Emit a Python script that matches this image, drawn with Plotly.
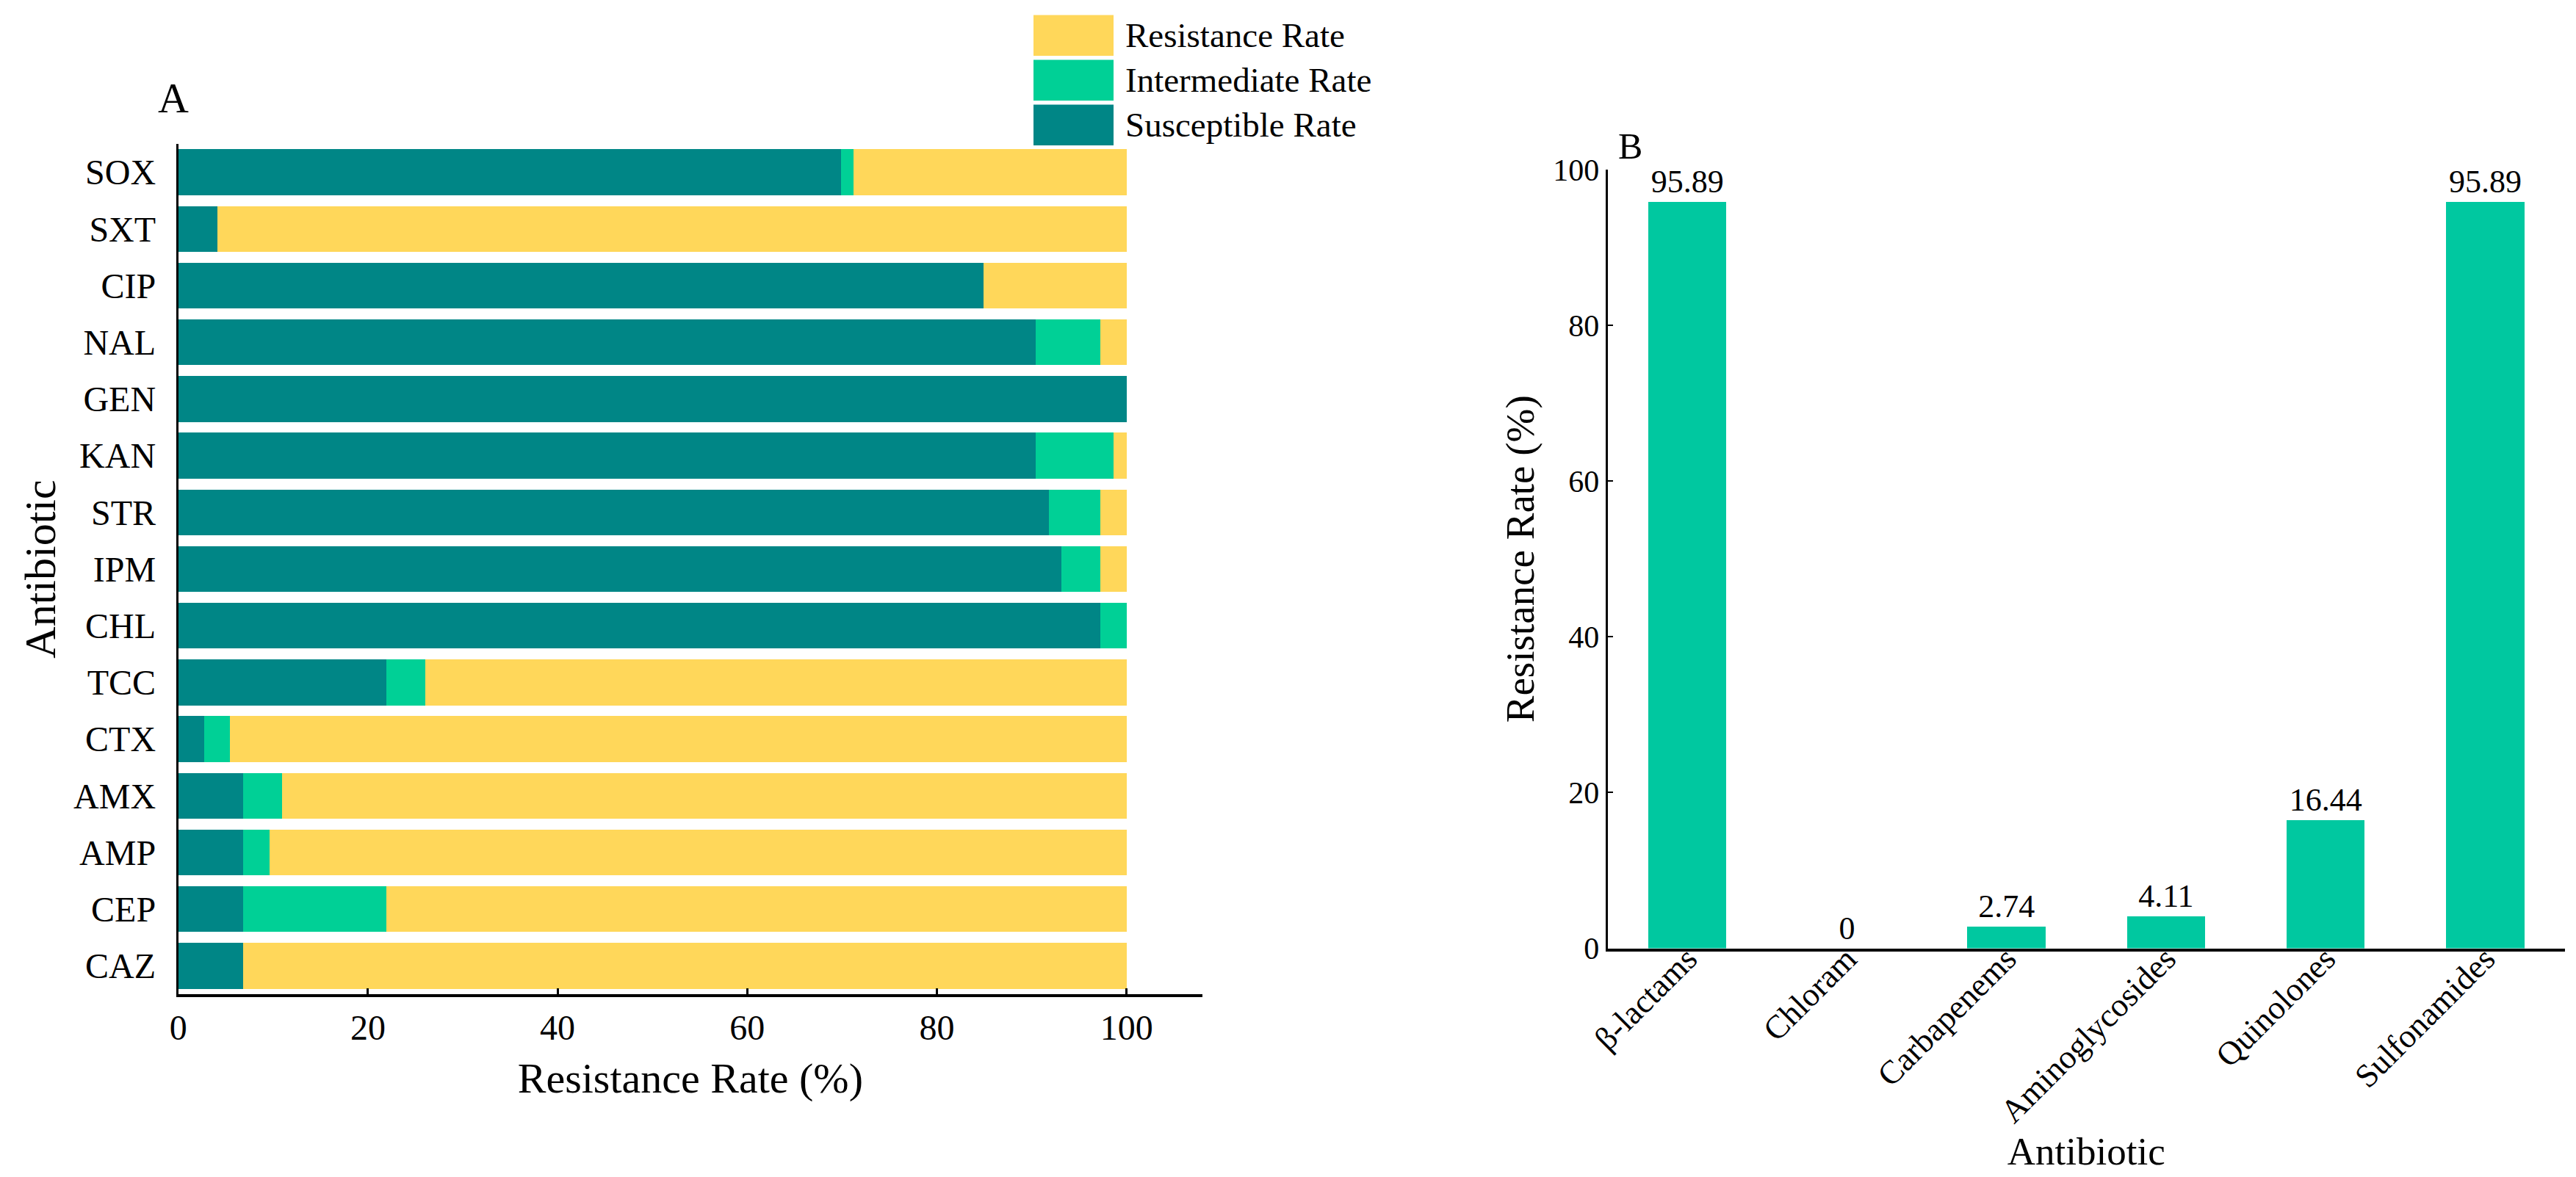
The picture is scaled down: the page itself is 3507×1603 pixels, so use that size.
import plotly.graph_objects as go

# ---------------- data ----------------
antibiotics = ["SOX", "SXT", "CIP", "NAL", "GEN", "KAN", "STR", "IPM", "CHL",
               "TCC", "CTX", "AMX", "AMP", "CEP", "CAZ"]
susceptible = [69.86, 4.11, 84.93, 90.41, 100, 90.41, 91.78, 93.15, 97.26,
               21.92, 2.74, 6.85, 6.85, 6.85, 6.85]
intermediate = [1.37, 0, 0, 6.85, 0, 8.22, 5.48, 4.11, 2.74,
                4.11, 2.74, 4.11, 2.74, 15.07, 0]
resistance = [28.77, 95.89, 15.07, 2.74, 0, 1.37, 2.74, 2.74, 0,
              73.97, 94.52, 89.04, 90.41, 78.08, 93.15]

classes = ["β-lactams", "Chloram", "Carbapenems", "Aminoglycosides", "Quinolones", "Sulfonamides"]
class_resistance = [95.89, 0, 2.74, 4.11, 16.44, 95.89]

series_names = ["Susceptible Rate", "Intermediate Rate", "Resistance Rate"]
x_ticks_left = [0, 20, 40, 60, 80, 100]
y_ticks_right = [0, 20, 40, 60, 80, 100]

# ---------------- style ----------------
W, H = 3507, 1603
FONT = "Liberation Serif"
C_SUS = "#008686"
C_INT = "#00D096"
C_RES = "#FFD75A"
C_BAR = "#00C8A0"
colors = {"Susceptible Rate": C_SUS, "Intermediate Rate": C_INT, "Resistance Rate": C_RES}

fig = go.Figure()

for name, vals in zip(series_names, [susceptible, intermediate, resistance]):
    fig.add_trace(go.Bar(
        y=antibiotics, x=vals, orientation="h", name=name,
        marker=dict(color=colors[name], line=dict(width=0)),
        xaxis="x", yaxis="y", showlegend=False,
    ))

fig.add_trace(go.Bar(
    x=classes, y=class_resistance, name="Resistance Rate",
    marker=dict(color=C_BAR, line=dict(width=0)),
    width=0.49,
    texttemplate="%{y}", textposition="outside", constraintext="none",
    textfont=dict(family=FONT, size=44, color="black"),
    cliponaxis=False,
    xaxis="x2", yaxis="y2", showlegend=False,
))

def py(v):  # pixel-from-top -> paper y
    return 1 - v / H

def px(v):
    return v / W

fig.update_layout(
    template="none",
    width=W, height=H, autosize=False,
    margin=dict(l=0, r=0, t=0, b=0, pad=0, autoexpand=False),
    paper_bgcolor="white", plot_bgcolor="white",
    font=dict(family=FONT, color="black"),
    barmode="stack", bargap=0.19,
    xaxis=dict(
        domain=[px(234.7), px(1629)], range=[0, 108], automargin=False,
        tickvals=x_ticks_left, ticks="inside", ticklen=8, tickwidth=3, tickcolor="black",
        showline=True, linewidth=4, linecolor="black",
        showgrid=False, zeroline=False,
        tickfont=dict(family=FONT, size=48),
        title=dict(text="Resistance Rate (%)", font=dict(family=FONT, size=58), standoff=24),
        anchor="y",
    ),
    yaxis=dict(
        domain=[py(1346), py(188)], automargin=False,
        type="category", categoryorder="array", categoryarray=antibiotics,
        autorange="reversed",
        ticks="", showline=True, linewidth=3, linecolor="black",
        showgrid=False, zeroline=False,
        tickfont=dict(family=FONT, size=48),
        ticklabelstandoff=18,
        title=dict(text="Antibiotic", font=dict(family=FONT, size=60), standoff=6),
        anchor="x",
    ),
    xaxis2=dict(
        domain=[px(2180.6), px(3484)], range=[-0.5, 5.5], automargin=False,
        type="category",
        ticks="", showline=True, linewidth=4, linecolor="black",
        showgrid=False, zeroline=False,
        tickangle=-45,
        ticklabelstandoff=-34,
        tickfont=dict(family=FONT, size=45),
        title=dict(text="Antibiotic", font=dict(family=FONT, size=53), standoff=10),
        anchor="y2",
    ),
    yaxis2=dict(
        domain=[py(1283.5), py(223)], range=[0, 100], automargin=False,
        tickvals=y_ticks_right, ticks="inside", ticklen=7, tickwidth=2, tickcolor="black",
        showline=True, linewidth=3, linecolor="black",
        showgrid=False, zeroline=False,
        tickfont=dict(family=FONT, size=42),
        title=dict(text="Resistance Rate (%)", font=dict(family=FONT, size=55), standoff=8),
        anchor="x2",
    ),
)

# panel letters
fig.add_annotation(text="A", x=px(228), y=py(126), xref="paper", yref="paper",
                   showarrow=False, font=dict(family=FONT, size=58), xanchor="center", yanchor="middle")
fig.add_annotation(text="B", x=px(2211), y=py(191), xref="paper", yref="paper",
                   showarrow=False, font=dict(family=FONT, size=50), xanchor="center", yanchor="middle")

# legend for panel A (large swatches, drawn in paper space)
legend_order = ["Resistance Rate", "Intermediate Rate", "Susceptible Rate"]
top0, box_h, pitch = 12.6, 55.5, 61.0
for i, name in enumerate(legend_order):
    t = top0 + i * pitch
    fig.add_shape(type="rect", xref="paper", yref="paper",
                  x0=px(1399), x1=px(1508), y0=py(t + box_h), y1=py(t),
                  fillcolor=colors[name], line=dict(width=0))
    fig.add_annotation(text=name, x=px(1522), y=py(t + box_h / 2), xref="paper", yref="paper",
                       showarrow=False, xanchor="left", yanchor="middle",
                       font=dict(family=FONT, size=47))

fig.write_html("out.html")
